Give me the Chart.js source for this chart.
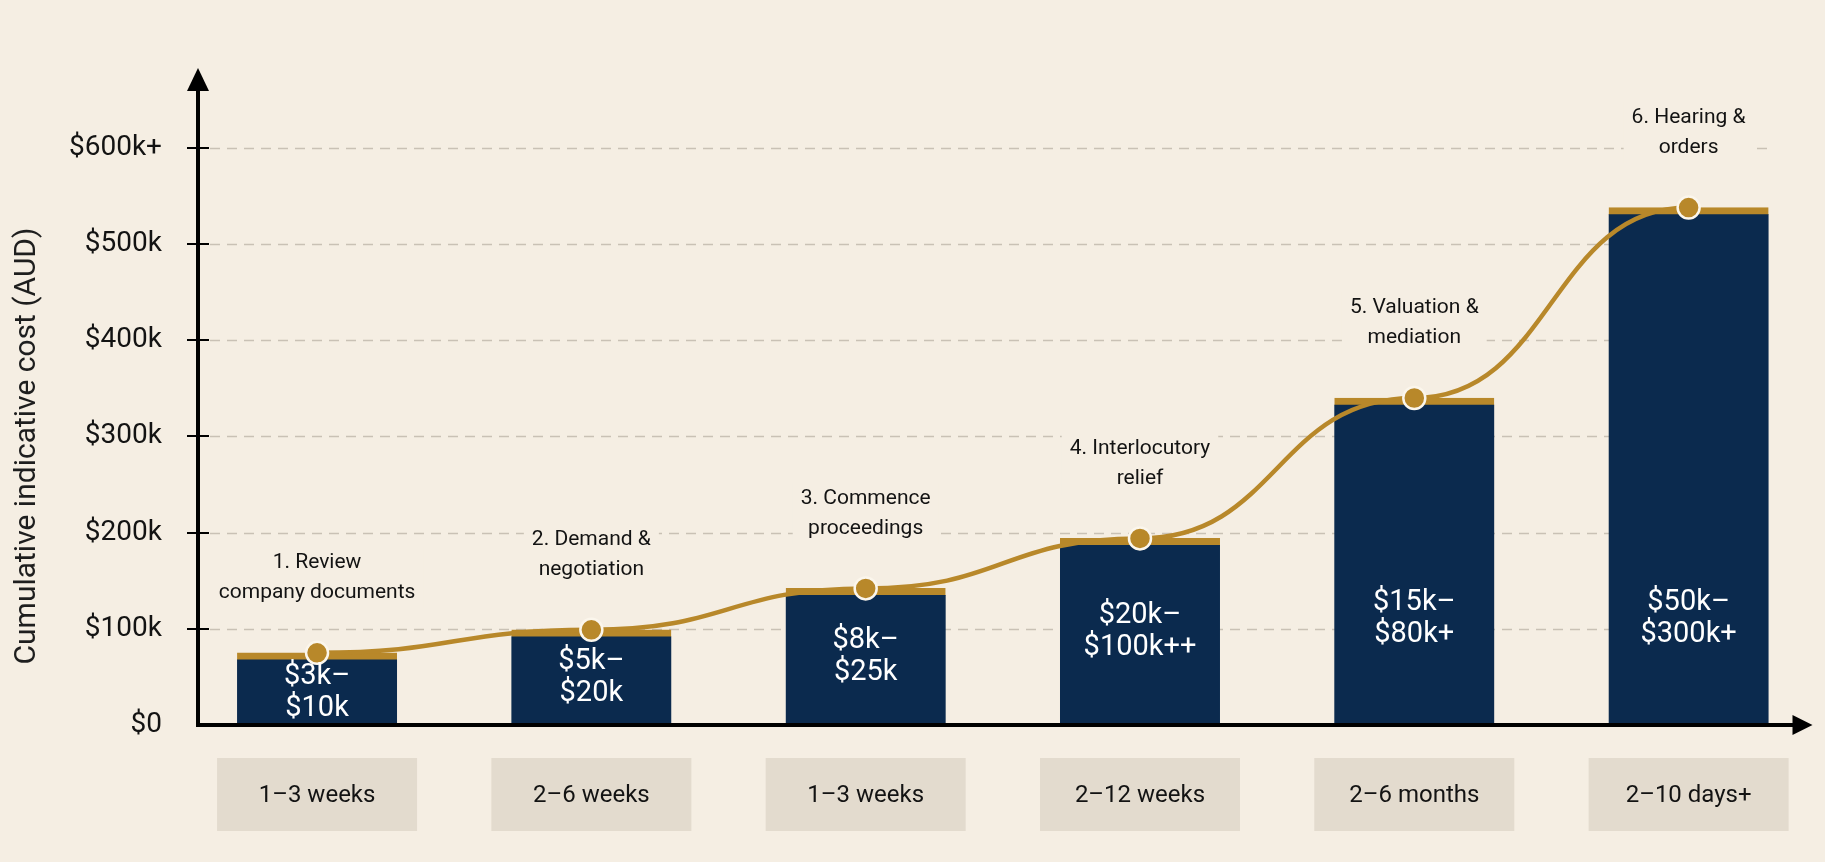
<!DOCTYPE html>
<html>
<head>
<meta charset="utf-8">
<title>Cumulative indicative cost by stage</title>
<script src="https://cdn.jsdelivr.net/npm/chart.js@4/dist/chart.umd.min.js"></script>
<style>
  html, body { margin: 0; padding: 0; background: #F5EEE3; }
  #wrap { width: 1825px; height: 862px; position: relative; }
</style>
</head>
<body>
<div id="wrap"><canvas id="chart"></canvas></div>
<script>
// chart data
const stageLabels = [
    ['1. Review', 'company documents'],
    ['2. Demand &', 'negotiation'],
    ['3. Commence', 'proceedings'],
    ['4. Interlocutory', 'relief'],
    ['5. Valuation &', 'mediation'],
    ['6. Hearing &', 'orders']
];
const costRanges = [
    ['$3k–', '$10k'],
    ['$5k–', '$20k'],
    ['$8k–', '$25k'],
    ['$20k–', '$100k++'],
    ['$15k–', '$80k+'],
    ['$50k–', '$300k+']
];
const durations = ['1–3 weeks', '2–6 weeks', '1–3 weeks', '2–12 weeks', '2–6 months', '2–10 days+'];
const cumulativeCost = [75000, 99000, 142000, 194000, 340000, 538000];
const yTickValues = [0, 100000, 200000, 300000, 400000, 500000, 600000];
const yTickLabels = ['$0', '$100k', '$200k', '$300k', '$400k', '$500k', '$600k+'];
const yTitle = 'Cumulative indicative cost (AUD)';

const NAVY = '#0B2A4E';
const GOLD = '#B8882A';
const BG = '#F5EEE3';
const INK = '#131313';
const FONT = 'Roboto, "Liberation Sans", sans-serif';

const points = cumulativeCost.map((v, i) => ({ x: i, y: v }));

function drawLines(ctx, lines, x, y1, gap) {
    lines.forEach((t, k) => ctx.fillText(t, x, y1 + k * gap));
}

// page background, gridlines and stage captions (under the bars)
const underlay = {
    id: 'underlay',
    beforeDraw(chart) {
        const ctx = chart.ctx;
        ctx.save();
        ctx.fillStyle = BG;
        ctx.fillRect(0, 0, chart.width, chart.height);
        ctx.restore();
    },
    beforeDatasetsDraw(chart) {
        const ctx = chart.ctx;
        const y = chart.scales.y;
        const left = chart.chartArea.left;
        const barMeta = chart.getDatasetMeta(0);
        const lastBar = barMeta.data[barMeta.data.length - 1];
        const gridEnd = lastBar.x + lastBar.width / 2;

        ctx.save();
        ctx.strokeStyle = '#C9C1B5';
        ctx.lineWidth = 1.5;
        ctx.setLineDash([10, 7]);
        yTickValues.slice(1).forEach(v => {
            const py = Math.round(y.getPixelForValue(v)) + 0.5;
            ctx.beginPath();
            ctx.moveTo(left + 12, py);
            ctx.lineTo(gridEnd, py);
            ctx.stroke();
        });
        ctx.restore();

        // y axis title
        ctx.save();
        ctx.translate(27, 446);
        ctx.rotate(-Math.PI / 2);
        ctx.font = '30px ' + FONT;
        ctx.fillStyle = '#1E1E1E';
        ctx.textAlign = 'center';
        ctx.textBaseline = 'middle';
        ctx.fillText(yTitle, 0, 0);
        ctx.restore();

        // stage captions above each bar, with a patch of page colour behind
        ctx.save();
        ctx.font = '21px ' + FONT;
        ctx.textAlign = 'center';
        ctx.textBaseline = 'middle';
        barMeta.data.forEach((bar, i) => {
            const lines = stageLabels[i];
            const y2 = bar.y - 60;
            const y1 = y2 - 30;
            const w = Math.max(...lines.map(t => ctx.measureText(t).width)) + 16;
            ctx.fillStyle = BG;
            ctx.fillRect(bar.x - w / 2, y1 - 16, w, 62);
            ctx.fillStyle = INK;
            drawLines(ctx, lines, bar.x, y1, 30);
        });
        ctx.restore();
    },
    beforeDatasetDraw(chart, args) {
        if (args.index !== 1) return;
        // smooth S-shaped path through the cumulative points
        const pts = chart.getDatasetMeta(1).data;
        const ctx = chart.ctx;
        ctx.save();
        ctx.strokeStyle = GOLD;
        ctx.lineWidth = 4.5;
        ctx.lineCap = 'round';
        ctx.beginPath();
        ctx.moveTo(pts[0].x, pts[0].y);
        for (let i = 1; i < pts.length; i++) {
            const a = pts[i - 1], b = pts[i];
            const dx = (b.x - a.x) * 0.5;
            ctx.bezierCurveTo(a.x + dx, a.y, b.x - dx, b.y, b.x, b.y);
        }
        ctx.stroke();
        ctx.restore();
    }
};

// axes with arrows, value text in the bars, duration boxes
const overlay = {
    id: 'overlay',
    afterDatasetsDraw(chart) {
        const ctx = chart.ctx;
        const area = chart.chartArea;
        const y = chart.scales.y;
        const base = y.getPixelForValue(0);
        const ax = area.left;
        const barMeta = chart.getDatasetMeta(0);

        ctx.save();
        // value ranges inside bars
        ctx.fillStyle = '#FFFFFF';
        ctx.font = '29px ' + FONT;
        ctx.textAlign = 'center';
        ctx.textBaseline = 'middle';
        barMeta.data.forEach((bar, i) => {
            const mid = Math.max((bar.y + base) / 2, base - 106);
            const first = Math.max(mid - 16, bar.y + 24);
            drawLines(ctx, costRanges[i], bar.x, first, 32);
        });

        // duration boxes under the x axis
        ctx.font = '24px ' + FONT;
        barMeta.data.forEach((bar, i) => {
            ctx.fillStyle = '#E3DBCE';
            ctx.fillRect(bar.x - 100, base + 33, 200, 73);
            ctx.fillStyle = INK;
            ctx.fillText(durations[i], bar.x, base + 71);
        });

        // axes
        ctx.strokeStyle = '#000';
        ctx.fillStyle = '#000';
        ctx.lineWidth = 4;
        ctx.beginPath();
        ctx.moveTo(ax, base + 2);
        ctx.lineTo(ax, area.top + 18);
        ctx.moveTo(ax - 2, base);
        ctx.lineTo(area.right - 18, base);
        ctx.stroke();
        ctx.beginPath();
        ctx.moveTo(ax, area.top - 3);
        ctx.lineTo(ax - 11, area.top + 20);
        ctx.lineTo(ax + 11, area.top + 20);
        ctx.closePath();
        ctx.fill();
        ctx.beginPath();
        ctx.moveTo(area.right + 1, base);
        ctx.lineTo(area.right - 19, base - 10);
        ctx.lineTo(area.right - 19, base + 10);
        ctx.closePath();
        ctx.fill();

        // tick crosses
        ctx.lineWidth = 2;
        yTickValues.slice(1).forEach(v => {
            const py = Math.round(y.getPixelForValue(v));
            ctx.beginPath();
            ctx.moveTo(ax - 11, py);
            ctx.lineTo(ax + 11, py);
            ctx.stroke();
        });
        ctx.restore();
    }
};

new Chart(document.getElementById('chart'), {
    type: 'bar',
    data: {
        datasets: [
            {
                type: 'bar',
                data: points,
                backgroundColor: NAVY,
                borderColor: GOLD,
                borderWidth: { top: 7, right: 0, bottom: 0, left: 0 },
                borderSkipped: 'bottom',
                barThickness: 160,
                order: 2
            },
            {
                type: 'line',
                data: points,
                showLine: false,
                pointRadius: 11,
                pointBackgroundColor: GOLD,
                pointBorderColor: '#FBF6EC',
                pointBorderWidth: 2.5,
                order: 1
            }
        ]
    },
    options: {
        responsive: true,
        maintainAspectRatio: false,
        animation: false,
        layout: { padding: { left: 0, right: 12, top: 71, bottom: 137 } },
        plugins: {
            legend: { display: false },
            tooltip: { enabled: false }
        },
        scales: {
            x: {
                type: 'linear',
                offset: false,
                min: -0.434,
                max: 5.448,
                display: false
            },
            y: {
                min: 0,
                max: 680000,
                afterFit(scale) { scale.width = 198; },
                afterBuildTicks(scale) {
                    scale.ticks = yTickValues.map(v => ({ value: v }));
                },
                grid: { display: false, drawTicks: false },
                border: { display: false },
                ticks: {
                    autoSkip: false,
                    padding: 36,
                    color: INK,
                    font: { family: FONT, size: 28 },
                    callback: (v, i) => yTickLabels[i]
                }
            }
        }
    },
    plugins: [underlay, overlay]
});
</script>
</body>
</html>
